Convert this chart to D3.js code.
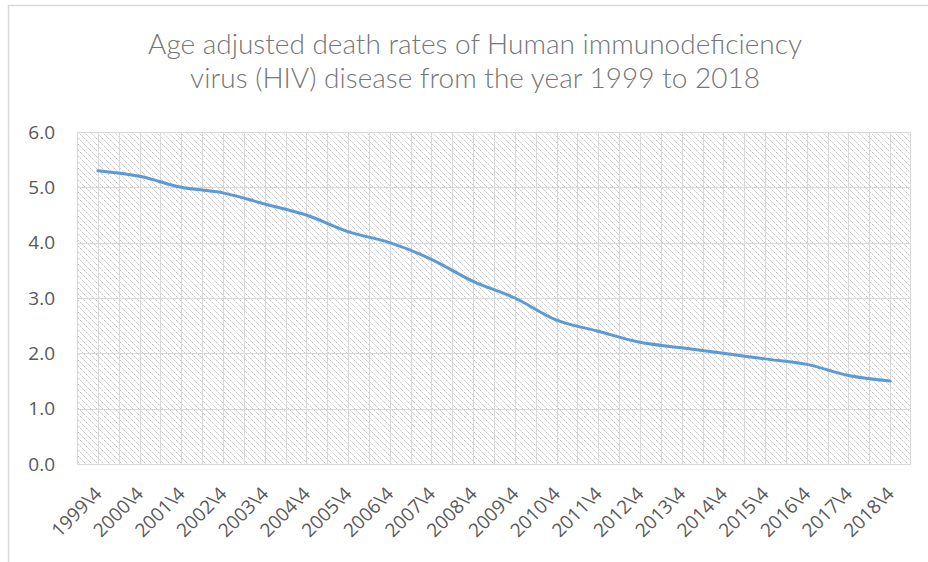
<!DOCTYPE html>
<html><head><meta charset="utf-8">
<script src="https://cdn.jsdelivr.net/npm/d3@7"></script>
<style>body{margin:0;background:#fff}svg{display:block}</style>
</head><body><svg id="c" width="928" height="562"></svg>
<script>
const years = ["1999\\4","2000\\4","2001\\4","2002\\4","2003\\4","2004\\4","2005\\4","2006\\4","2007\\4","2008\\4","2009\\4","2010\\4","2011\\4","2012\\4","2013\\4","2014\\4","2015\\4","2016\\4","2017\\4","2018\\4"];
const rates = [5.3,5.2,5.0,4.9,4.7,4.5,4.2,4.0,3.7,3.3,3.0,2.6,2.4,2.2,2.1,2.0,1.9,1.8,1.6,1.5];
const yTicks = [0,1,2,3,4,5,6];
const titleLines = ["Age adjusted death rates of Human immunodeficiency","virus (HIV) disease from the year 1999 to 2018"];

const svg = d3.select("#c");
const m = {l:77, r:911, t:132, b:464};
const font = "'Open Sans', 'Liberation Sans', sans-serif";
const titleFont = "Lato, 'Open Sans', sans-serif";

// outer frame
svg.append("rect").attr("x",8.5).attr("y",5.5).attr("width",940).attr("height",600)
  .attr("fill","none").attr("stroke","#d9d9d9").attr("stroke-width",1.5);

const defs = svg.append("defs");
const pat = defs.append("pattern").attr("id","hatch").attr("patternUnits","userSpaceOnUse")
  .attr("width",6).attr("height",6);
pat.append("rect").attr("width",6).attr("height",6).attr("fill","#fff");
pat.append("path").attr("d","M0,0L6,6M-1,5L1,7M5,-1L7,1").attr("stroke","#c6c6c6")
  .attr("stroke-width",1).attr("stroke-dasharray","2,1");

const x = d3.scaleBand().domain(years).range([m.l,m.r]);
const xc = d => x(d) + x.bandwidth()/2;
const y = d3.scaleLinear().domain([0,6]).range([m.b,m.t]);

svg.append("rect").attr("x",m.l).attr("y",m.t).attr("width",m.r-m.l).attr("height",m.b-m.t)
  .attr("fill","url(#hatch)");

// gridlines
const g = svg.append("g").attr("stroke","#d9d9d9").attr("stroke-width",1);
years.forEach(d=>{
  [x(d), xc(d)].forEach(px=>{
    g.append("line").attr("x1",Math.round(px)+0.5).attr("x2",Math.round(px)+0.5).attr("y1",m.t).attr("y2",m.b);
  });
});
g.append("line").attr("x1",m.r-0.5).attr("x2",m.r-0.5).attr("y1",m.t).attr("y2",m.b);
yTicks.forEach(t=>{
  g.append("line").attr("x1",m.l).attr("x2",m.r).attr("y1",Math.round(y(t))+0.5).attr("y2",Math.round(y(t))+0.5);
});

// y axis labels
const ya = svg.append("g").attr("transform",`translate(${m.l-22},0)`)
  .call(d3.axisLeft(y).tickValues(yTicks).tickFormat(d3.format(".1f")).tickSize(0).tickPadding(0));
ya.select(".domain").remove();
ya.selectAll("text").attr("font-family",font).attr("font-size",19).attr("fill","#595959");

// x axis labels
const xa = svg.append("g").attr("transform",`translate(0,${m.b})`)
  .call(d3.axisBottom(x).tickSize(0).tickPadding(0));
xa.select(".domain").remove();
xa.selectAll("text").attr("font-family",font).attr("font-size",19).attr("fill","#595959")
  .attr("text-anchor","end").attr("dy",0).attr("y",0)
  .attr("transform","translate(5,31) rotate(-45)");

// line
svg.append("path").datum(rates.map((v,i)=>[xc(years[i]), y(v)]))
  .attr("d", d3.line().curve(d3.curveCatmullRom.alpha(0.5)))
  .attr("fill","none").attr("stroke","#5b9bd5").attr("stroke-width",3).attr("stroke-linecap","round");

// title
svg.append("g").selectAll("text").data(titleLines).join("text")
  .attr("x",475).attr("y",(d,i)=>54+i*34).attr("text-anchor","middle")
  .attr("font-family",titleFont).attr("font-weight",300).attr("font-size",28).attr("fill","#767676")
  .text(d=>d);
</script></body></html>
